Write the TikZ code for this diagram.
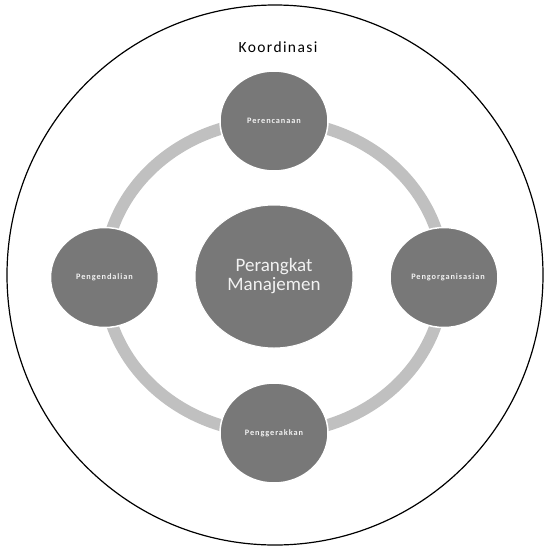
\documentclass[tikz,border=0pt]{standalone}
\usepackage{fontspec}
\setmainfont{Carlito}
\usetikzlibrary{shapes.geometric}
\definecolor{satfill}{HTML}{787878}
\definecolor{ringc}{HTML}{C0C0C0}
\definecolor{labc}{HTML}{F2F2F2}
\tikzset{
  sat/.style={ellipse, fill=satfill, draw=white, line width=1.5pt, minimum width=108pt, minimum height=100pt, inner sep=0pt},
  hub/.style={ellipse, fill=satfill, draw=white, line width=1pt, minimum width=158pt, minimum height=143pt, inner sep=0pt},
  satlabel/.style={text=labc, font=\fontsize{8.3}{10}\selectfont\bfseries\addfontfeatures{LetterSpace=11}, inner sep=0pt},
  hublabel/.style={text=labc, font=\fontsize{19}{19}\selectfont, align=center, inner sep=0pt},
  title/.style={text=black, font=\fontsize{15.5}{18}\selectfont\addfontfeatures{LetterSpace=9}, inner sep=0pt}
}
\begin{document}
\begin{tikzpicture}[x=1pt,y=-1pt]
\useasboundingbox (0,0) rectangle (545,547);
\fill[white] (0,0) rectangle (545,547);
\draw[black, line width=1.2pt] (275,275) ellipse [x radius=268pt, y radius=270pt];
\node[title] (koord) at (278,47) {Koordinasi};
\draw[ringc, line width=12pt] (274,277) ellipse [x radius=170pt, y radius=156pt];
\node[hub] (hub) at (274,276.5) {};
\node[hublabel] at (hub) {Perangkat\\Manajemen};
\node[sat] (plan) at (274,121) {};
\node[satlabel] at (plan) {Perencanaan};
\node[sat] (org) at (444,277.5) {};
\node[satlabel] at ([xshift=4pt]org.center) {Pengorganisasian};
\node[sat] (act) at (274,433) {};
\node[satlabel] at (act) {Penggerakkan};
\node[sat] (ctrl) at (104.5,277.5) {};
\node[satlabel] at (ctrl) {Pengendalian};
\end{tikzpicture}
\end{document}
